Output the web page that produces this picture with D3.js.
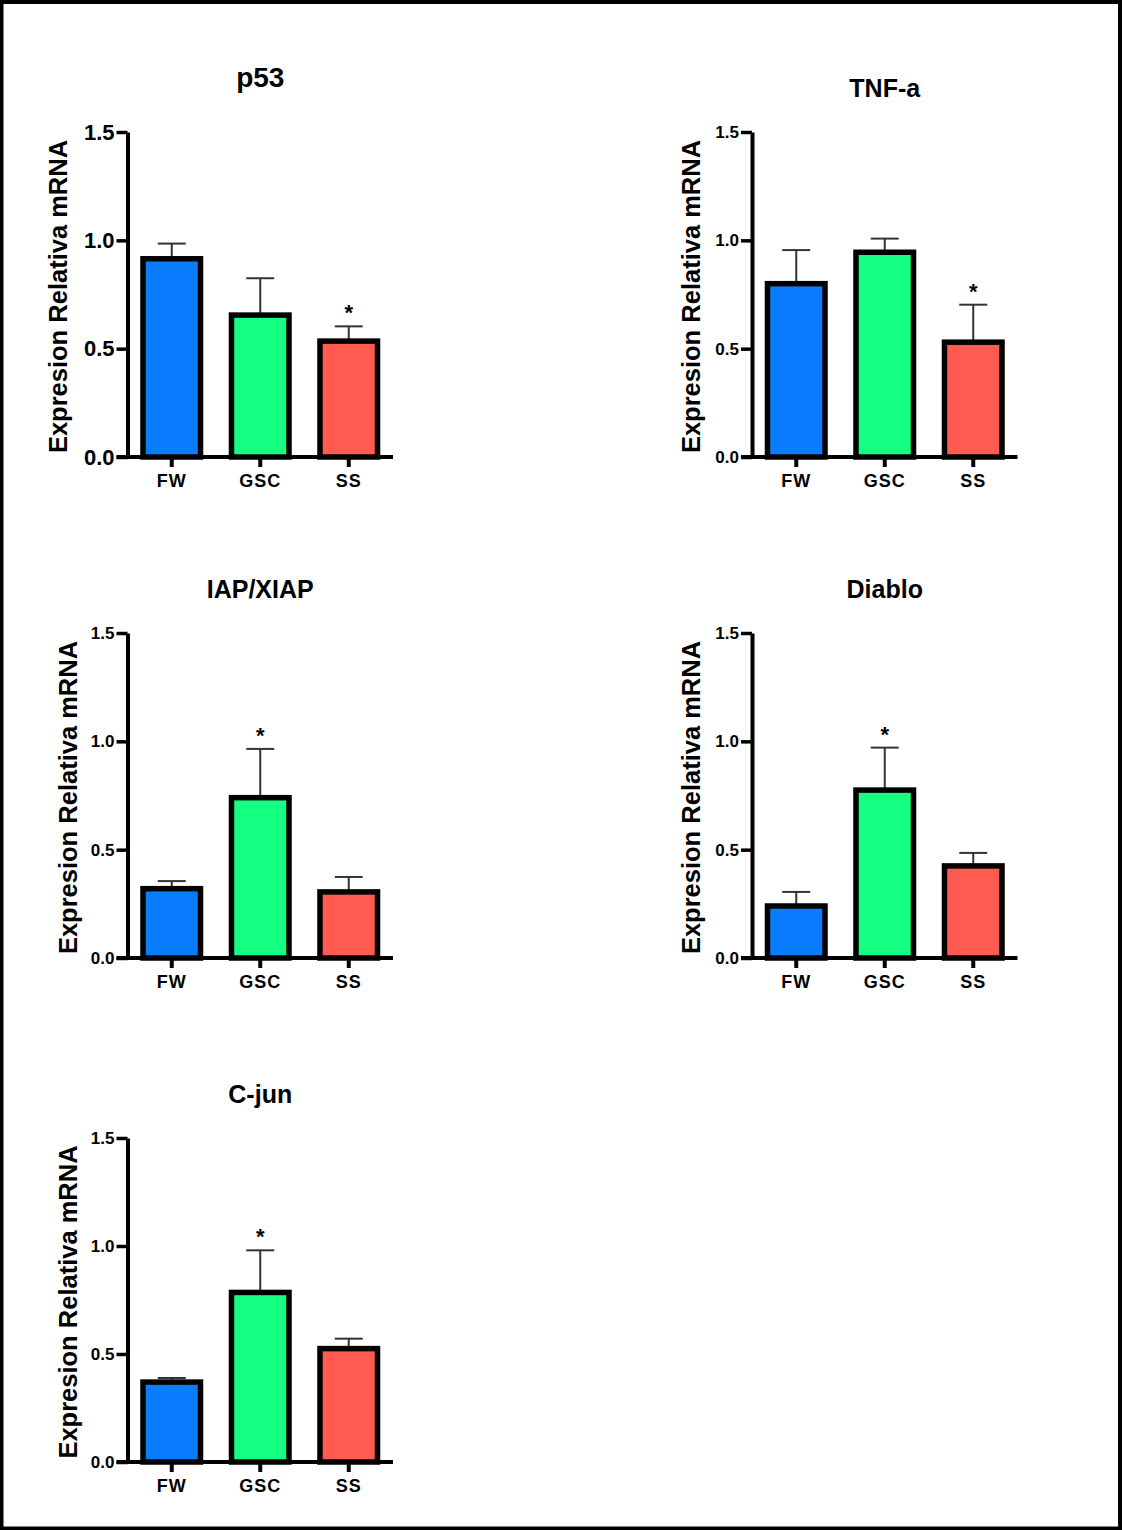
<!DOCTYPE html>
<html>
<head>
<meta charset="utf-8">
<script src="https://cdn.jsdelivr.net/npm/d3@7"></script>
<style>
  html, body { margin: 0; padding: 0; background: #fff; }
  svg { display: block; }
  text { font-family: "Liberation Sans", Arial, Helvetica, sans-serif; font-weight: bold; fill: #000; }
</style>
</head>
<body>
<svg id="chart" width="1122" height="1530"></svg>
<script>
// ---------- data ----------
const categories = ["FW", "GSC", "SS"];
const panelTitles = ["p53", "TNF-a", "IAP/XIAP", "Diablo", "C-jun"];
const meanValues = [
  [0.915, 0.655, 0.535],
  [0.80, 0.945, 0.53],
  [0.32, 0.74, 0.305],
  [0.24, 0.775, 0.425],
  [0.37, 0.785, 0.525]
];
const semValues = [
  [0.07, 0.17, 0.068],
  [0.155, 0.063, 0.173],
  [0.035, 0.225, 0.069],
  [0.065, 0.196, 0.06],
  [0.019, 0.195, 0.046]
];
const significant = [
  [false, false, true],
  [false, false, true],
  [false, true, false],
  [false, true, false],
  [false, true, false]
];
const yTickValues = [0.0, 0.5, 1.0, 1.5];
const yLabel = "Expresion Relativa mRNA";
const barColors = ["#0a7dff", "#14ff82", "#ff5b50"];

// ---------- layout (per panel) ----------
const panels = [
  { ax: 127.5, top: 132, zero: 457, titleY: 80, titleSize: 28, labelX: 60, tickSize: 22 },
  { ax: 752,   top: 132, zero: 457, titleY: 90, titleSize: 25, labelX: 693, tickSize: 17 },
  { ax: 127.5, top: 633, zero: 958, titleY: 591, titleSize: 25, labelX: 70, tickSize: 17 },
  { ax: 752,   top: 633, zero: 958, titleY: 591, titleSize: 25, labelX: 693, tickSize: 17 },
  { ax: 127.5, top: 1138, zero: 1462, titleY: 1096, titleSize: 25, labelX: 70, tickSize: 17 }
];

const svg = d3.select("#chart");

// outer frame
svg.append("rect")
  .attr("x", 1.5).attr("y", 2)
  .attr("width", 1118.5).attr("height", 1526.5)
  .attr("fill", "none").attr("stroke", "#000").attr("stroke-width", 4);

panels.forEach((p, i) => {
  const g = svg.append("g").attr("transform", `translate(${p.ax},0)`);
  const x = d3.scaleBand().domain(categories).range([0, 265.5])
    .paddingInner(0.35).paddingOuter(0.175);
  const y = d3.scaleLinear().domain([0, 1.5]).range([p.zero, p.top]);
  const tickLen = 11;

  // title
  g.append("text")
    .attr("x", x.range()[1] / 2)
    .attr("y", p.titleY)
    .attr("text-anchor", "middle")
    .attr("dominant-baseline", "middle")
    .style("font-size", p.titleSize + "px")
    .text(panelTitles[i]);

  // y label
  g.append("text")
    .attr("transform", `translate(${p.labelX - p.ax},${(p.top + p.zero) / 2 + 2}) rotate(-90)`)
    .attr("text-anchor", "middle")
    .attr("dominant-baseline", "middle")
    .style("font-size", "25.5px")
    .text(yLabel);

  const data = categories.map((c, j) => ({
    cat: c, mean: meanValues[i][j], sem: semValues[i][j], sig: significant[i][j], color: barColors[j]
  }));

  // error bars
  const eb = g.append("g");
  data.forEach(d => {
    const cx = x(d.cat) + x.bandwidth() / 2;
    eb.append("line")
      .attr("x1", cx).attr("x2", cx)
      .attr("y1", y(d.mean)).attr("y2", y(d.mean + d.sem))
      .attr("stroke", "#333").attr("stroke-width", 2);
    eb.append("line")
      .attr("x1", cx - 14).attr("x2", cx + 14)
      .attr("y1", y(d.mean + d.sem)).attr("y2", y(d.mean + d.sem))
      .attr("stroke", "#333").attr("stroke-width", 2);
    if (d.sig) {
      eb.append("text")
        .attr("x", cx)
        .attr("y", y(d.mean + d.sem) - 6)
        .attr("text-anchor", "middle")
        .style("font-size", "22px")
        .text("*");
    }
  });

  // bars
  g.selectAll("rect.bar").data(data).enter().append("rect")
    .attr("class", "bar")
    .attr("x", d => x(d.cat))
    .attr("width", x.bandwidth())
    .attr("y", d => y(d.mean))
    .attr("height", d => y(0) - y(d.mean))
    .attr("fill", d => d.color)
    .attr("stroke", "#000")
    .attr("stroke-width", 5.5)
    .attr("stroke-linejoin", "miter");

  // y axis
  const yAxis = d3.axisLeft(y).tickValues(yTickValues)
    .tickFormat(d3.format(".1f")).tickSize(tickLen).tickSizeOuter(0).tickPadding(2);
  const ya = g.append("g").call(yAxis);
  ya.select(".domain").attr("stroke", "#000").attr("stroke-width", 4);
  ya.selectAll(".tick line").attr("stroke", "#000").attr("stroke-width", 3.5);
  ya.selectAll(".tick text")
    .style("font-size", p.tickSize + "px")
    .style("font-family", '"Liberation Sans", Arial, sans-serif')
    .style("font-weight", "bold")
    .attr("fill", "#000");

  // x axis
  const xAxis = d3.axisBottom(x).tickSize(10).tickSizeOuter(0).tickPadding(7);
  const xa = g.append("g").attr("transform", `translate(0,${y(0)})`).call(xAxis);
  xa.select(".domain").remove();
  xa.selectAll(".tick line").attr("stroke", "#000").attr("stroke-width", 4);
  xa.selectAll(".tick text")
    .style("font-size", "18px")
    .style("letter-spacing", "1px")
    .style("font-family", '"Liberation Sans", Arial, sans-serif')
    .style("font-weight", "bold")
    .attr("fill", "#000");
  xa.append("line")
    .attr("x1", -tickLen).attr("x2", x.range()[1])
    .attr("y1", 0).attr("y2", 0)
    .attr("stroke", "#000").attr("stroke-width", 4);
});
</script>
</body>
</html>
